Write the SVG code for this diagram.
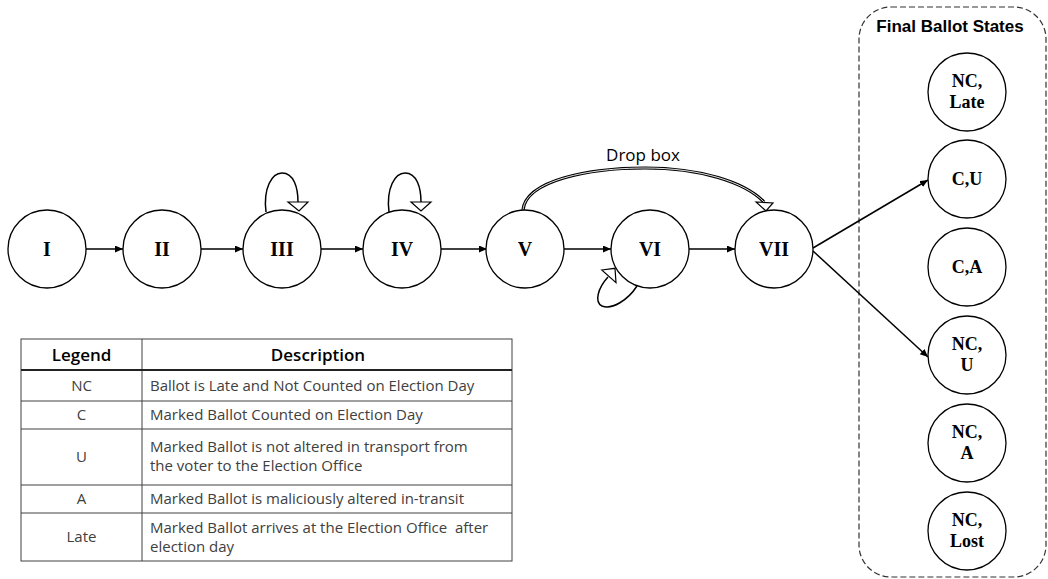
<svg xmlns="http://www.w3.org/2000/svg" width="1048" height="579" viewBox="0 0 1048 579">
<style>
.st{fill:#fff;stroke:#000;stroke-width:1.3}
.rn{font-family:"Liberation Serif",serif;font-weight:bold;font-size:20px;text-anchor:middle;fill:#000}
.fs{font-family:"Liberation Serif",serif;font-weight:bold;font-size:18px;text-anchor:middle;fill:#000}
.ln{fill:none;stroke:#000;stroke-width:1.5}
.hh{fill:#fff;stroke:#000;stroke-width:1.2}
.tb{font-family:"Open Sans",sans-serif;font-size:15px;fill:#404040}
.th{font-family:"Open Sans",sans-serif;font-size:17px;font-weight:600;fill:#000;text-anchor:middle}
.grid{stroke:#404040;stroke-width:1;fill:none}
</style>
<defs>
<marker id="ah" markerUnits="userSpaceOnUse" markerWidth="9" markerHeight="8" refX="8" refY="3.5" orient="auto">
<path d="M0,0 L8,3.5 L0,7 z" fill="#000"/>
</marker>
</defs>

<rect id="final-states" x="859" y="7" width="187" height="570" rx="32" ry="32" fill="none" stroke="#333" stroke-width="1.2" stroke-dasharray="6 3"/>
<text x="950" y="32" font-family="Liberation Sans,sans-serif" font-weight="bold" font-size="17" text-anchor="middle" fill="#000">Final Ballot States</text>

<g id="connectors">
<line class="ln" x1="86" y1="249" x2="123" y2="249" marker-end="url(#ah)"/>
<line class="ln" x1="201" y1="249" x2="243" y2="249" marker-end="url(#ah)"/>
<line class="ln" x1="321" y1="249" x2="363" y2="249" marker-end="url(#ah)"/>
<line class="ln" x1="441" y1="249" x2="487" y2="249" marker-end="url(#ah)"/>
<line class="ln" x1="564" y1="249" x2="611" y2="249" marker-end="url(#ah)"/>
<line class="ln" x1="689" y1="249" x2="735" y2="249" marker-end="url(#ah)"/>
<line class="ln" x1="813" y1="248" x2="928" y2="180" marker-end="url(#ah)"/>
<line class="ln" x1="813" y1="251" x2="928" y2="357" marker-end="url(#ah)"/>
<path class="ln" d="M266,212 C263,188 272,173 282,173 C294,173 298,188 298,202"/>
<polygon class="hh" points="288,202 308,202 299,211"/>
<path class="ln" d="M389,212 C386,188 395,173 405,173 C417,173 421,188 421,202"/>
<polygon class="hh" points="411,202 431,202 421,211"/>
<path d="M637,286 C628,300 612,310 602,306 C594,302 598,288 608,277" class="ln"/>
<polygon class="hh" points="601.7,270 615,268.3 616,282.7"/>
<path d="M523,210 C526,180 590,168 645,168 C700,168 745,182 764,202" fill="none" stroke="#000" stroke-width="3.2"/>
<path d="M523,210 C526,180 590,168 645,168 C700,168 745,182 764,202" fill="none" stroke="#fff" stroke-width="0.9"/>
<polygon class="hh" points="756,202 773,203 766,211"/>
<text x="643" y="161" font-family="Open Sans,sans-serif" font-size="17" text-anchor="middle" fill="#000">Drop box</text>
</g>

<g id="n1"><circle class="st" cx="47" cy="249" r="39"/><text class="rn" x="47" y="256">I</text></g>
<g id="n2"><circle class="st" cx="162" cy="249" r="39"/><text class="rn" x="162" y="256">II</text></g>
<g id="n3"><circle class="st" cx="282" cy="249" r="39"/><text class="rn" x="282" y="256">III</text></g>
<g id="n4"><circle class="st" cx="402" cy="249" r="39"/><text class="rn" x="402" y="256">IV</text></g>
<g id="n5"><circle class="st" cx="525" cy="249" r="39"/><text class="rn" x="525" y="256">V</text></g>
<g id="n6"><circle class="st" cx="650" cy="249" r="39"/><text class="rn" x="650" y="256">VI</text></g>
<g id="n7"><circle class="st" cx="774" cy="249" r="39"/><text class="rn" x="774" y="256">VII</text></g>

<g id="f1"><circle class="st" cx="967" cy="92" r="39"/><text class="fs" x="967" y="87">NC,</text><text class="fs" x="967" y="108">Late</text></g>
<g id="f2"><circle class="st" cx="967" cy="179" r="39"/><text class="fs" x="967" y="185">C,U</text></g>
<g id="f3"><circle class="st" cx="967" cy="267" r="39"/><text class="fs" x="967" y="273">C,A</text></g>
<g id="f4"><circle class="st" cx="967" cy="355" r="39"/><text class="fs" x="967" y="350">NC,</text><text class="fs" x="967" y="371">U</text></g>
<g id="f5"><circle class="st" cx="967" cy="443" r="39"/><text class="fs" x="967" y="438">NC,</text><text class="fs" x="967" y="459">A</text></g>
<g id="f6"><circle class="st" cx="967" cy="531" r="39"/><text class="fs" x="967" y="526">NC,</text><text class="fs" x="967" y="547">Lost</text></g>

<g id="legend-table">
<rect class="grid" x="21" y="339" width="491" height="222"/>
<line class="grid" x1="142" y1="339" x2="142" y2="561"/>
<line x1="21" y1="370" x2="512" y2="370" stroke="#222" stroke-width="2"/>
<line class="grid" x1="21" y1="401" x2="512" y2="401"/>
<line class="grid" x1="21" y1="429" x2="512" y2="429"/>
<line class="grid" x1="21" y1="485" x2="512" y2="485"/>
<line class="grid" x1="21" y1="513" x2="512" y2="513"/>
<text class="th" x="81.5" y="361">Legend</text>
<text class="th" x="318" y="361">Description</text>
<text class="tb" x="81.5" y="391" text-anchor="middle">NC</text>
<text class="tb" x="150" y="391">Ballot is Late and Not Counted on Election Day</text>
<text class="tb" x="81.5" y="420" text-anchor="middle">C</text>
<text class="tb" x="150" y="420">Marked Ballot Counted on Election Day</text>
<text class="tb" x="81.5" y="462" text-anchor="middle">U</text>
<text class="tb" x="150" y="452">Marked Ballot is not altered in transport from</text>
<text class="tb" x="150" y="471">the voter to the Election Office</text>
<text class="tb" x="81.5" y="504" text-anchor="middle">A</text>
<text class="tb" x="150" y="504">Marked Ballot is maliciously altered in-transit</text>
<text class="tb" x="81.5" y="542" text-anchor="middle">Late</text>
<text class="tb" x="150" y="533">Marked Ballot arrives at the Election Office&#160; after</text>
<text class="tb" x="150" y="552">election day</text>
</g>
</svg>
